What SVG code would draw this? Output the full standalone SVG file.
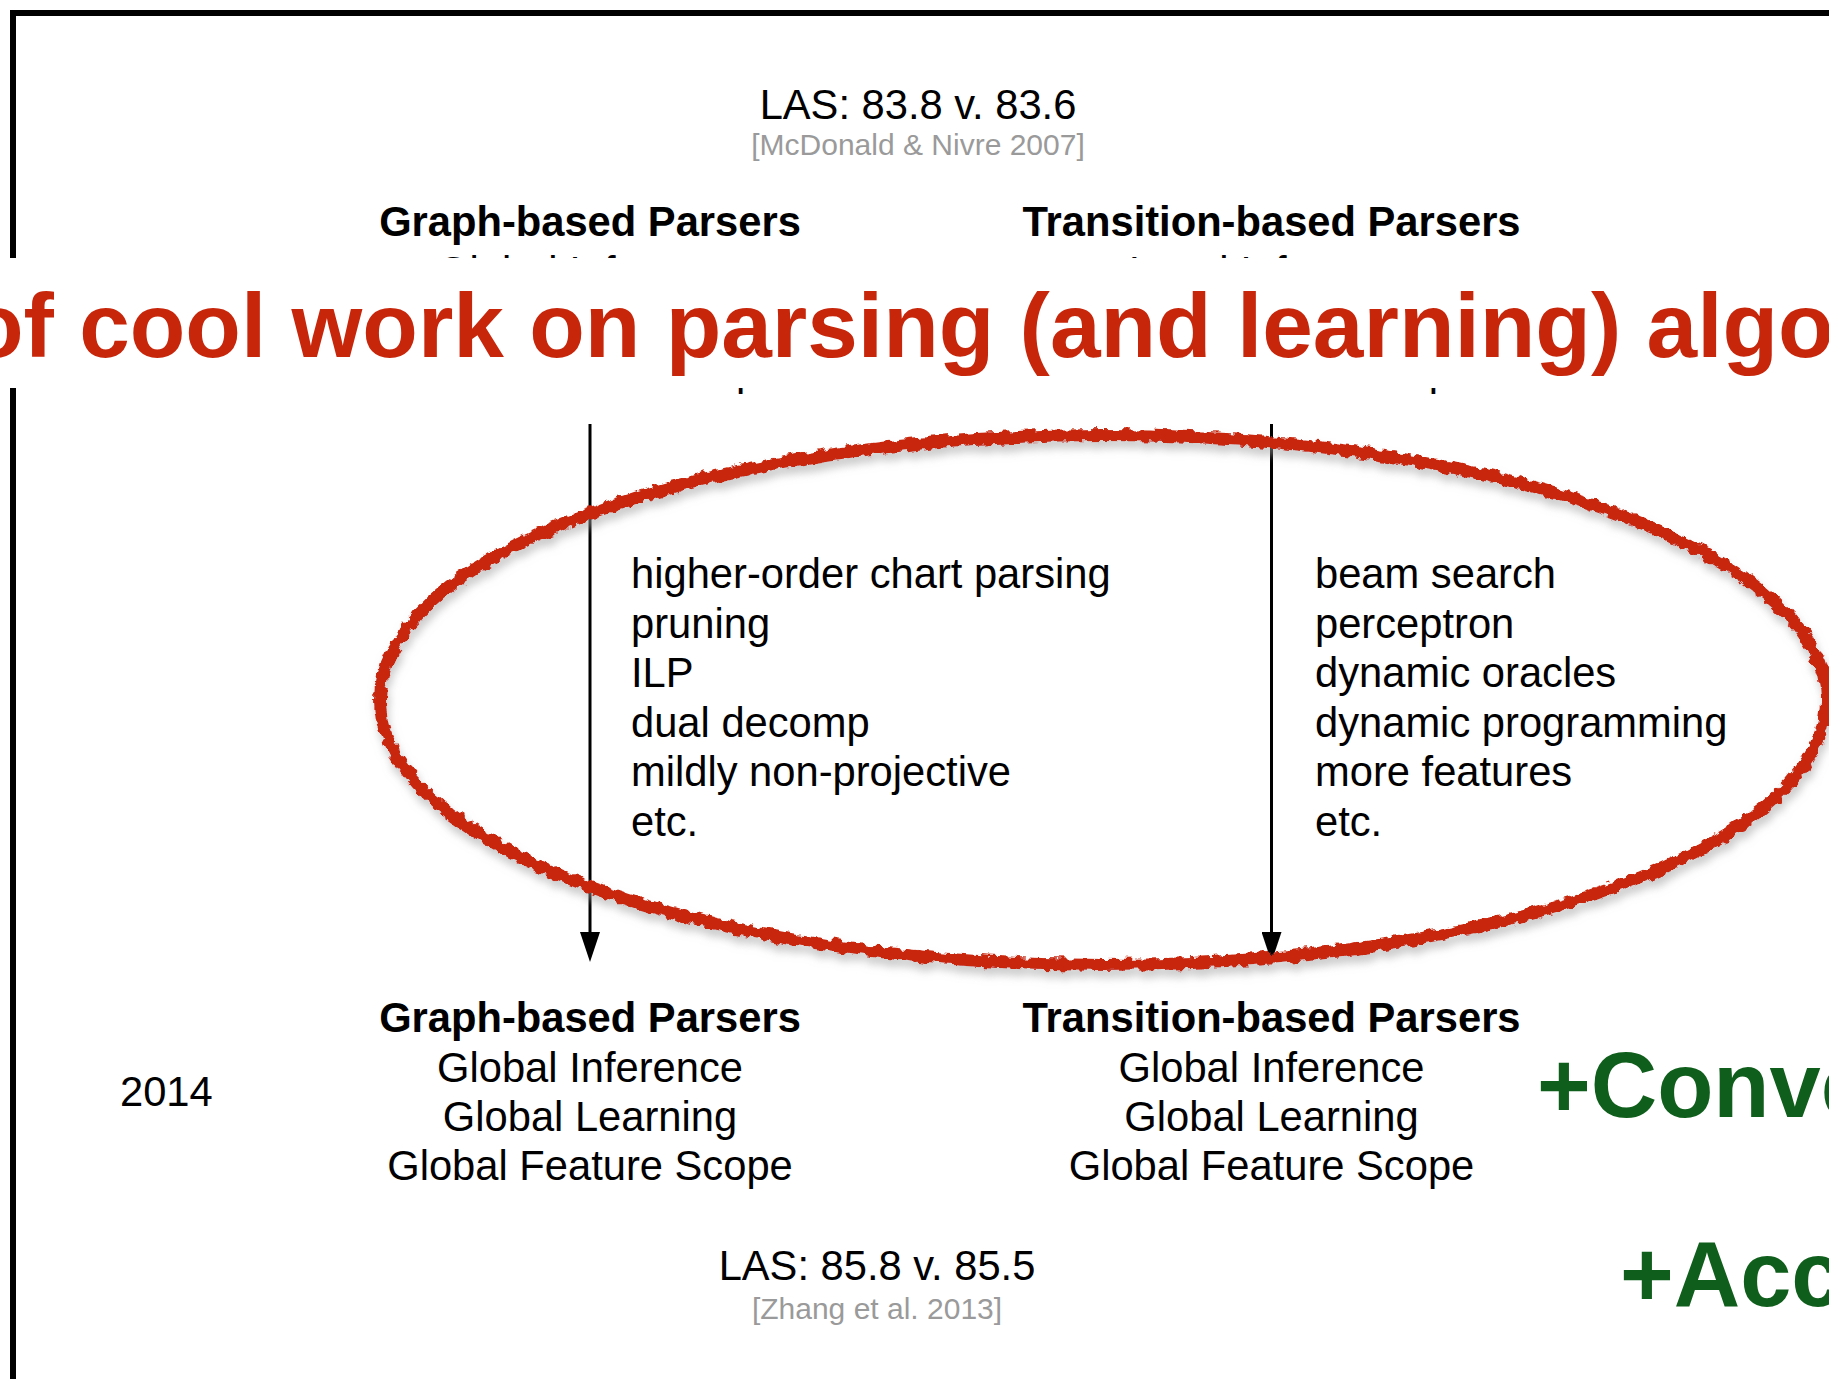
<svg xmlns="http://www.w3.org/2000/svg" width="1829" height="1379" viewBox="0 0 1829 1379">
  <style>
    text { font-family: "Liberation Sans", Arial, sans-serif; fill: #000; }
    .t { font-size: 41.7px; }
    .b { font-size: 41.7px; font-weight: bold; }
    .mid { text-anchor: middle; }
    .cite { font-size: 30px; fill: #9a9a9a; }
    .red { font-size: 91px; font-weight: bold; fill: #c8260b; }
    .green { font-size: 92px; font-weight: bold; fill: #0f5e1b; }
    .arrow { stroke: #000; stroke-width: 3; fill: none; }
  </style>
  <defs>
    <marker id="head" markerUnits="userSpaceOnUse" markerWidth="30" markerHeight="20" refX="0" refY="10" viewBox="0 0 30 20" orient="auto">
      <path d="M0,0 L30,10 L0,20 Z" fill="#000"/>
    </marker>
    <filter id="brush" x="-5%" y="-10%" width="110%" height="125%">
      <feTurbulence type="fractalNoise" baseFrequency="0.12" numOctaves="2" seed="4" result="n"/>
      <feDisplacementMap in="SourceGraphic" in2="n" scale="9" xChannelSelector="R" yChannelSelector="G" result="d"/>
      <feGaussianBlur in="d" stdDeviation="4" result="bl"/>
      <feOffset in="bl" dx="2" dy="7" result="o"/>
      <feColorMatrix in="o" type="matrix" values="0 0 0 0 0.35  0 0 0 0 0.35  0 0 0 0 0.35  0 0 0 0.55 0" result="s"/>
      <feMerge><feMergeNode in="s"/><feMergeNode in="d"/></feMerge>
    </filter>
  </defs>

  <rect x="0" y="0" width="1829" height="1379" fill="#fff"/>
  <path id="frame" d="M13,1379 V13 H1829" fill="none" stroke="#000" stroke-width="6"/>

  <g id="las-2007">
    <text class="t mid" x="918" y="119">LAS: 83.8 v. 83.6</text>
    <text class="cite mid" x="918" y="155">[McDonald &amp; Nivre 2007]</text>
  </g>

  <g id="graph-2007">
    <text class="b mid" x="590" y="236">Graph-based Parsers</text>
    <text class="t mid" x="590" y="286">Global Inference</text>
    <text class="t mid" x="590" y="385">Local Feature Scope</text>
  </g>

  <g id="transition-2007">
    <text class="b mid" x="1271.5" y="236">Transition-based Parsers</text>
    <text class="t mid" x="1271.5" y="286">Local Inference</text>
    <text class="t mid" x="1291" y="385">Rich Feature Scope</text>
  </g>

  <g id="connectors">
    <line class="arrow" x1="590" y1="424" x2="590" y2="932" marker-end="url(#head)"/>
    <line class="arrow" x1="1271.5" y1="424" x2="1271.5" y2="932" marker-end="url(#head)"/>
  </g>

  <g id="graph-methods">
    <text class="t" x="631" y="588">higher-order chart parsing</text>
    <text class="t" x="631" y="637.5">pruning</text>
    <text class="t" x="631" y="687">ILP</text>
    <text class="t" x="631" y="736.5">dual decomp</text>
    <text class="t" x="631" y="786">mildly non-projective</text>
    <text class="t" x="631" y="835.5">etc.</text>
  </g>

  <g id="transition-methods">
    <text class="t" x="1315" y="588">beam search</text>
    <text class="t" x="1315" y="637.5">perceptron</text>
    <text class="t" x="1315" y="687">dynamic oracles</text>
    <text class="t" x="1315" y="736.5">dynamic programming</text>
    <text class="t" x="1315" y="786">more features</text>
    <text class="t" x="1315" y="835.5">etc.</text>
  </g>

  <g id="highlight-ellipse">
    <ellipse cx="1103" cy="700" rx="723" ry="265" fill="none" stroke="#c8260b" stroke-width="12" filter="url(#brush)"/>
  </g>

  <g id="year-2014">
    <text class="t" x="120" y="1106">2014</text>
  </g>

  <g id="graph-2014">
    <text class="b mid" x="590" y="1032">Graph-based Parsers</text>
    <text class="t mid" x="590" y="1082">Global Inference</text>
    <text class="t mid" x="590" y="1131">Global Learning</text>
    <text class="t mid" x="590" y="1180">Global Feature Scope</text>
  </g>

  <g id="transition-2014">
    <text class="b mid" x="1271.5" y="1032">Transition-based Parsers</text>
    <text class="t mid" x="1271.5" y="1082">Global Inference</text>
    <text class="t mid" x="1271.5" y="1131">Global Learning</text>
    <text class="t mid" x="1271.5" y="1180">Global Feature Scope</text>
  </g>

  <g id="las-2014">
    <text class="t mid" x="877" y="1280">LAS: 85.8 v. 85.5</text>
    <text class="cite mid" x="877" y="1319">[Zhang et al. 2013]</text>
  </g>

  <g id="green-notes">
    <text class="green" x="1537" y="1117">+Conve</text>
    <text class="green" x="1620" y="1306">+Acc</text>
  </g>

  <g id="title-band">
    <rect x="0" y="258" width="1829" height="130" fill="#fff"/>
    <text class="red" x="-32" y="357">of cool work on parsing (and learning) algo</text>
  </g>
</svg>
